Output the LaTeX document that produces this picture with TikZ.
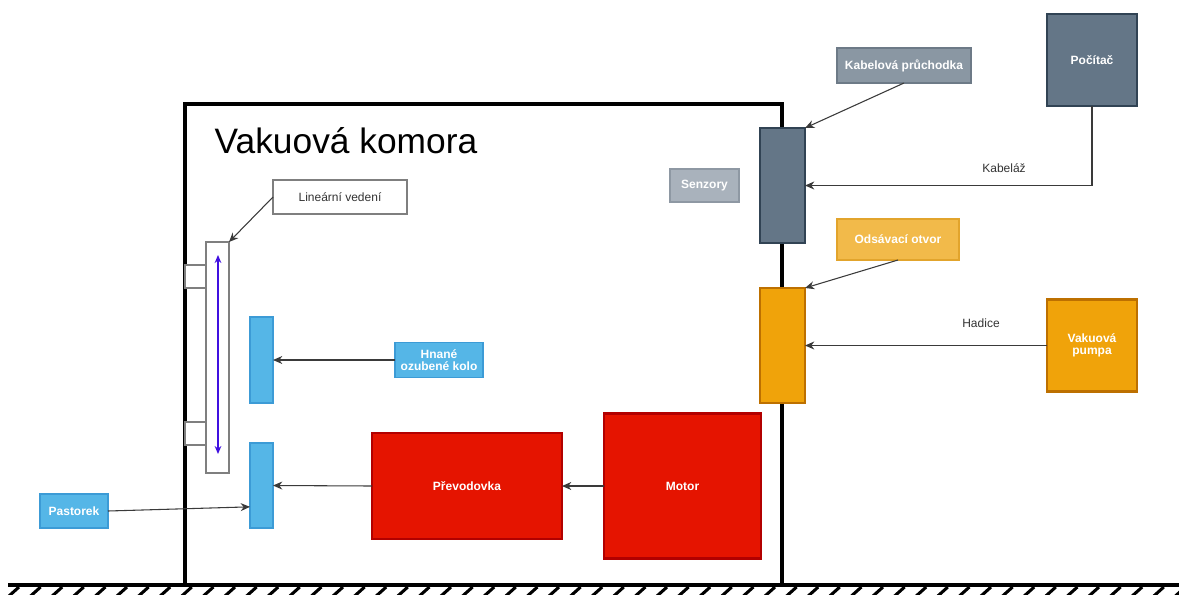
\documentclass[tikz,border=0pt]{standalone}
\usepackage{fontspec}
\setmainfont{Liberation Sans}
\usetikzlibrary{arrows.meta}
\definecolor{cblue}{HTML}{55B6E7}
\definecolor{cbluel}{HTML}{3C9BD6}
\definecolor{cslate}{HTML}{647687}
\definecolor{cslatel}{HTML}{314354}
\definecolor{ckab}{HTML}{8A97A3}
\definecolor{ckabl}{HTML}{6D7A87}
\definecolor{csen}{HTML}{A9B2BC}
\definecolor{csenl}{HTML}{8E98A3}
\definecolor{cods}{HTML}{F2BA4A}
\definecolor{codsl}{HTML}{E2A42C}
\definecolor{corg}{HTML}{F0A30A}
\definecolor{corgl}{HTML}{BD7000}
\definecolor{cred}{HTML}{E51400}
\definecolor{credl}{HTML}{B20000}
\definecolor{cgrayb}{HTML}{7F7F7F}
\definecolor{cpurp}{HTML}{4010E0}
\definecolor{cedge}{HTML}{3A3A3A}
\tikzset{
  sz/.style 2 args={minimum width=#1*0.75pt, minimum height=#2*0.75pt, inner sep=0pt, outer sep=0pt},
  lbl/.style={text=white, font=\bfseries\fontsize{9}{10.5}\selectfont, align=center},
  bluebox/.style={lbl, fill=cblue, draw=cbluel, line width=1.2pt},
  slatebox/.style={lbl, fill=cslate, draw=cslatel, line width=1.8pt},
  orgbox/.style={lbl, fill=corg, draw=corgl, line width=1.8pt},
  redbox/.style={lbl, fill=cred, draw=credl, line width=1.8pt},
  conn/.style={draw=cedge, line width=0.8pt, -{Stealth[length=7pt,width=6pt]}},
  edgelbl/.style={text=black!80, font=\fontsize{9}{10.5}\selectfont},
  wall/.style={line width=2.4pt, black},
}
\begin{document}
\begin{tikzpicture}[x=0.75pt, y=-0.75pt]
\useasboundingbox (0,0) rectangle (1179,594);
% ground
\draw[wall] (8,585) -- (1179,585);
\foreach \i in {0,...,54} {
  \draw[line width=2.3pt, black] (9+\i*21.6,596) -- (19+\i*21.6,587);
}
% chamber
\draw[wall] (185,585) -- (185,104) -- (782,104) -- (782,585);
\node[anchor=west, font=\fontsize{26.5}{31}\selectfont] (title) at (210,141) {Vakuová komora};
% wall brackets
\node[sz={21}{23}, fill=white, draw=cgrayb, line width=1.6pt] (br1) at (195.5,276.5) {};
\node[sz={21}{23}, fill=white, draw=cgrayb, line width=1.6pt] (br2) at (195.5,433.5) {};
% rail
\node[sz={23}{231}, fill=white, draw=cgrayb, line width=1.8pt] (rail) at (217.5,357.5) {};
\coordinate (rt) at (218,255);
\coordinate (rb) at (218,454);
\draw[cpurp, line width=1pt, {Stealth[length=6pt,width=5pt]}-{Stealth[length=6pt,width=5pt]}] (rt) -- (rb);
% linear guide label
\node[sz={134}{34}, fill=white, draw=cgrayb, line width=1.8pt, font=\fontsize{9}{10.5}\selectfont, text=black!80] (lin) at (340,197) {Lineární vedení};
% blue parts
\node[bluebox, sz={23}{86}] (gear) at (261.5,360) {};
\node[bluebox, sz={23}{85}] (pin) at (261.5,485.5) {};
\node[bluebox, sz={88}{35}] (hn) at (439,360) {Hnané\\[-2pt]ozubené kolo};
\node[bluebox, sz={68}{34}] (past) at (74,511) {Pastorek};
% red
\node[redbox, sz={190}{106}] (prev) at (467,486) {Převodovka};
\node[redbox, sz={157}{145}] (motor) at (682.5,486) {Motor};
% slate
\node[slatebox, sz={45}{115}] (gland) at (782.5,185.5) {};
\node[lbl, sz={134}{35}, fill=ckab, draw=ckabl, line width=1.8pt] (kab) at (904,65.5) {Kabelová průchodka};
\node[lbl, sz={69}{33}, fill=csen, draw=csenl, line width=1.8pt] (senz) at (704.5,185.5) {Senzory};
\node[slatebox, sz={90}{92}] (pc) at (1092,60) {Počítač};
% orange
\node[lbl, sz={122}{41}, fill=cods, draw=codsl, line width=1.8pt] (ods) at (898,239.5) {Odsávací otvor};
\node[orgbox, sz={45}{115}] (port) at (782.5,345.5) {};
\node[orgbox, sz={90}{92}] (pump) at (1092,345.5) {Vakuová\\[-1pt]pumpa};
% connectors
\draw[conn] (lin.west) -- (rail.north east);
\draw[conn] (hn.west) -- (gear.east);
\draw[conn] (past.east) -- ([yshift=-16pt]pin.west);
\draw[conn] (prev.west) -- (pin.east);
\draw[conn] (motor.west) -- (prev.east);
\draw[conn] (kab.south) -- (gland.north east);
\draw[conn] (pc.south) -- (pc.south |- gland.east) -- (gland.east);
\draw[conn] (ods.south) -- (port.north east);
\draw[conn] (pump.west) -- (port.east);
\node[edgelbl] (kl) at (1004,168) {Kabeláž};
\node[edgelbl] (hl) at (981,323) {Hadice};
\end{tikzpicture}
\end{document}
